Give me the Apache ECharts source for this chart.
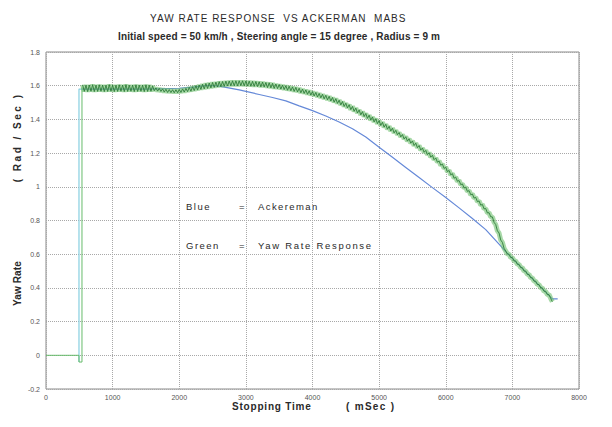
<!DOCTYPE html>
<html>
<head>
<meta charset="utf-8">
<script src="https://cdn.jsdelivr.net/npm/echarts@6/dist/echarts.min.js"></script>
<style>
  html, body { margin: 0; padding: 0; background: #ffffff; }
  #chart { width: 612px; height: 427px; }
</style>
</head>
<body>
<div id="chart"></div>
<script>
// Axis ticks
const xTicks = [0, 1000, 2000, 3000, 4000, 5000, 6000, 7000, 8000];
const yTicks = [-0.2, 0, 0.2, 0.4, 0.6, 0.8, 1, 1.2, 1.4, 1.6, 1.8];

// Step input at the start of the run (time ms, yaw rate rad/s)
const greenLeadTimes = [0, 495, 495, 540, 540];
const greenLeadValues = [0, 0, -0.04, -0.04, 1.59];
const blueLeadTimes = [495, 495, 540];
const blueLeadValues = [-0.04, 1.58, 1.58];

// Measured yaw rate response, sampled every 25 ms from 550 ms (one row = 100 ms)
const greenStartMs = 550;
const greenStepMs = 25;
const greenValues = [
  1.605, 1.566, 1.603, 1.565,
  1.604, 1.567, 1.606, 1.565,
  1.603, 1.566, 1.605, 1.567,
  1.604, 1.565, 1.603, 1.566,
  1.606, 1.567, 1.604, 1.565,
  1.603, 1.566, 1.605, 1.567,
  1.604, 1.565, 1.606, 1.566,
  1.603, 1.567, 1.604, 1.565,
  1.605, 1.566, 1.603, 1.567,
  1.604, 1.565, 1.605, 1.566,
  1.603, 1.567, 1.598, 1.570,
  1.587, 1.568, 1.584, 1.566,
  1.581, 1.562, 1.579, 1.560,
  1.577, 1.559, 1.576, 1.558,
  1.576, 1.558, 1.578, 1.560,
  1.581, 1.562, 1.584, 1.565,
  1.590, 1.567, 1.594, 1.571,
  1.600, 1.574, 1.604, 1.578,
  1.609, 1.581, 1.613, 1.584,
  1.616, 1.587, 1.619, 1.590,
  1.621, 1.592, 1.624, 1.594,
  1.625, 1.596, 1.627, 1.598,
  1.628, 1.599, 1.629, 1.599,
  1.629, 1.599, 1.629, 1.600,
  1.629, 1.599, 1.628, 1.598,
  1.627, 1.597, 1.626, 1.596,
  1.625, 1.595, 1.623, 1.593,
  1.622, 1.592, 1.619, 1.589,
  1.617, 1.587, 1.614, 1.584,
  1.610, 1.583, 1.607, 1.580,
  1.604, 1.577, 1.600, 1.573,
  1.597, 1.570, 1.593, 1.566,
  1.590, 1.563, 1.585, 1.558,
  1.580, 1.554, 1.575, 1.549,
  1.570, 1.544, 1.565, 1.539,
  1.560, 1.533, 1.554, 1.528,
  1.549, 1.522, 1.543, 1.516,
  1.537, 1.509, 1.530, 1.502,
  1.523, 1.495, 1.514, 1.486,
  1.506, 1.477, 1.496, 1.468,
  1.487, 1.458, 1.477, 1.448,
  1.467, 1.438, 1.456, 1.427,
  1.446, 1.417, 1.435, 1.406,
  1.425, 1.396, 1.414, 1.385,
  1.404, 1.375, 1.393, 1.364,
  1.383, 1.354, 1.371, 1.342,
  1.359, 1.331, 1.348, 1.320,
  1.335, 1.309, 1.322, 1.296,
  1.310, 1.284, 1.297, 1.271,
  1.285, 1.259, 1.272, 1.245,
  1.259, 1.232, 1.245, 1.218,
  1.230, 1.205, 1.216, 1.191,
  1.202, 1.176, 1.187, 1.161,
  1.171, 1.146, 1.153, 1.128,
  1.135, 1.109, 1.116, 1.090,
  1.097, 1.071, 1.078, 1.051,
  1.057, 1.033, 1.037, 1.013,
  1.017, 0.993, 0.997, 0.973,
  0.977, 0.953, 0.957, 0.933,
  0.937, 0.912, 0.916, 0.891,
  0.895, 0.869, 0.871, 0.845,
  0.846, 0.822, 0.821, 0.789,
  0.776, 0.739, 0.726, 0.684,
  0.670, 0.635, 0.619, 0.601,
  0.600, 0.580, 0.580, 0.560,
  0.560, 0.540, 0.540, 0.520,
  0.520, 0.500, 0.500, 0.480,
  0.480, 0.460, 0.460, 0.440,
  0.440, 0.420, 0.420, 0.400,
  0.400, 0.380, 0.380, 0.360,
  0.360, 0.338, 0.318
];

// Ackerman reference yaw rate
const blueTimes = [540, 1000, 1500, 2000, 2200, 2400, 2500, 2600, 2700, 2800,
  2900, 3000, 3200, 3400, 3600, 3800, 4000, 4200, 4400, 4600,
  4800, 5000, 5200, 5400, 5600, 5800, 6000, 6200, 6400, 6600,
  6800, 6900, 7000, 7200, 7400, 7600, 7680];
const blueValues = [1.58, 1.58, 1.58, 1.585, 1.592, 1.6, 1.6, 1.597, 1.59, 1.583,
  1.575, 1.566, 1.548, 1.53, 1.51, 1.48, 1.452, 1.42, 1.385, 1.345,
  1.295, 1.235, 1.175, 1.115, 1.055, 0.995, 0.936, 0.875, 0.812, 0.746,
  0.66, 0.615, 0.575, 0.495, 0.415, 0.335, 0.335];

// Letter spacing (px) for the spaced-out captions
const captionSpacing = {
  'YAW RATE RESPONSE  VS ACKERMAN  MABS': 1.0,
  'Initial speed = 50 km/h , Steering angle = 15 degree , Radius = 9 m': 0.15,
  'Stopping Time': 0.8,
  '( mSec )': 1.3,
  '( Rad / Sec )': 2.5,
  'Yaw Rate': 0.1,
  'Blue': 1.5,
  'Green': 1.5,
  'Ackereman': 1.4,
  'Yaw Rate Response': 1.7
};

const zip = (ts, vs) => ts.map((t, i) => [t, vs[i]]);
const greenData = greenValues.map((v, i) => [greenStartMs + i * greenStepMs, v]);

const chart = echarts.init(document.getElementById('chart'), null, { renderer: 'svg' });

const textFont = 'Liberation Sans, Arial, sans-serif';
const labelFont = { fontFamily: textFont, color: '#555', fontSize: 7 };
const caption = (text, left, top, font, extra) =>
  Object.assign({ type: 'text', left: left, top: top, style: { text: text, font: font + ' ' + textFont, fill: '#2a2a2a' } }, extra || {});

chart.setOption({
  animation: false,
  backgroundColor: '#ffffff',
  grid: { left: 46, top: 52, width: 533, height: 337, show: true, borderColor: '#8a8a8a', borderWidth: 1 },
  xAxis: {
    type: 'value', min: xTicks[0], max: xTicks[xTicks.length - 1], interval: 1000,
    axisLine: { show: false }, axisTick: { show: false },
    axisLabel: Object.assign({ margin: 5, formatter: v => String(v) }, labelFont),
    splitLine: { show: true, lineStyle: { color: '#a8a8a8', type: 'dotted', width: 1 } }
  },
  yAxis: {
    type: 'value', min: yTicks[0], max: yTicks[yTicks.length - 1], interval: 0.2,
    axisLine: { show: false }, axisTick: { show: false },
    axisLabel: Object.assign({ margin: 6, formatter: v => String(Math.round(v * 10) / 10) }, labelFont),
    splitLine: { show: true, lineStyle: { color: '#a8a8a8', type: 'dotted', width: 1 } }
  },
  graphic: [
    caption('YAW RATE RESPONSE  VS ACKERMAN  MABS', 150, 13, '10px'),
    caption('Initial speed = 50 km/h , Steering angle = 15 degree , Radius = 9 m', 118, 31, 'bold 10px'),
    caption('Stopping Time', 232, 401, 'bold 10px'),
    caption('( mSec )', 346, 401, 'bold 10px'),
    caption('Yaw Rate', 12, 262, 'bold 10px', { rotation: Math.PI / 2 }),
    caption('( Rad / Sec )', 12, 125, 'bold 10px', { rotation: Math.PI / 2 }),
    caption('Blue', 186, 201, '9.5px'),
    caption('=', 239, 201, '9.5px'),
    caption('Ackereman', 258, 201, '9.5px'),
    caption('Green', 186, 240, '9.5px'),
    caption('=', 239, 240, '9.5px'),
    caption('Yaw Rate Response', 258, 240, '9.5px')
  ],
  series: [
    { name: 'Ackerman step', type: 'line', showSymbol: false, data: zip(blueLeadTimes, blueLeadValues),
      lineStyle: { color: '#86cfe0', width: 1.2 } },
    { name: 'Response step', type: 'line', showSymbol: false, data: zip(greenLeadTimes, greenLeadValues),
      lineStyle: { color: '#66bb6a', width: 1 } },
    { name: 'Ackereman', type: 'line', showSymbol: false, data: zip(blueTimes, blueValues),
      lineStyle: { color: '#6589d8', width: 1.2 } },
    { name: 'Yaw Rate Response band', type: 'line', showSymbol: false, data: greenData,
      lineStyle: { color: 'rgba(110,192,110,0.6)', width: 5 } },
    { name: 'Yaw Rate Response', type: 'line', showSymbol: false, data: greenData,
      lineStyle: { color: '#2f7d3a', width: 0.9 } }
  ]
});

// Spread out the caption lettering in the SVG output
function applyCaptionSpacing() {
  document.querySelectorAll('#chart text').forEach(el => {
    const s = captionSpacing[el.textContent];
    if (s) el.setAttribute('letter-spacing', s + 'px');
  });
}
applyCaptionSpacing();
chart.on('finished', applyCaptionSpacing);
</script>
</body>
</html>
